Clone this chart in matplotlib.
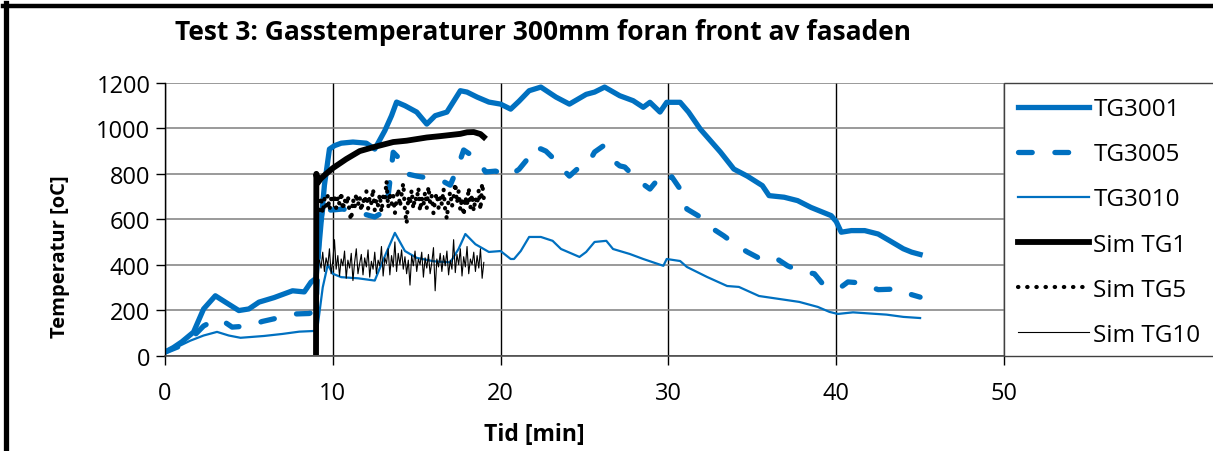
import matplotlib
matplotlib.use("Agg")
import matplotlib.pyplot as plt
from matplotlib.lines import Line2D
from matplotlib.patches import Rectangle

plt.rcParams.update({"font.family": ["Open Sans", "DejaVu Sans"], "font.size": 17})

BLUE = "#0070C0"

# measured series (time in min, temperature in degC)
tg3001_t = [0, 0.5, 1.0, 1.7, 2.3, 3.0, 3.6, 4.4, 5.0, 5.6, 6.5, 7.6, 8.3, 8.7, 9.0, 9.2,
            9.5, 9.8, 10.1, 10.5, 11.2, 12.0, 12.5, 13.1, 13.5, 13.8, 14.3, 15.0, 15.6,
            16.1, 16.8, 17.6, 18.0, 18.6, 19.3, 20.0, 20.6, 21.1, 21.7, 22.4, 23.3, 24.1,
            25.1, 25.6, 26.2, 27.1, 27.9, 28.5, 28.9, 29.5, 29.9, 30.7, 31.2, 31.9, 33.1,
            33.9, 34.7, 35.6, 36.0, 36.9, 37.7, 38.5, 39.7, 40.0, 40.3, 40.9, 41.7, 42.5,
            43.2, 44.0, 44.5, 45.0]
tg3001_v = [15, 35, 60, 103, 205, 263, 235, 198, 205, 235, 255, 285, 280, 323, 340, 500,
            750, 909, 924, 935, 940, 935, 909, 990, 1056, 1116, 1100, 1072, 1019,
            1056, 1072, 1166, 1160, 1138, 1116, 1107, 1085, 1120, 1166, 1182, 1138, 1107,
            1150, 1160, 1182, 1144, 1122, 1093, 1115, 1072, 1115, 1115, 1072, 997, 896,
            821, 790, 748, 704, 697, 682, 652, 616, 590, 543, 550, 550, 535,
            505, 470, 455, 445]

tg3005_t = [0, 1.0, 1.7, 2.3, 2.8, 3.3, 4.0, 5.0, 5.8, 7.0, 7.8, 8.6, 9.0, 9.2, 9.5, 9.8,
            10.6, 11.5, 12.5, 13.2, 13.6, 14.0, 14.4, 15.0, 15.8, 16.5, 17.0, 17.4, 17.8,
            18.3, 18.75, 19.1, 19.7, 20.5, 21.1, 21.6, 21.8, 22.4, 22.7, 23.3, 23.7, 24.1,
            24.7, 25.2, 25.6, 26.1, 26.6, 27.1, 27.4, 27.8, 28.3, 28.9, 29.4, 29.8, 30.2,
            30.7, 31.1, 31.9, 32.4, 33.3, 34.1, 34.7, 35.5, 36.3, 37.1, 37.8, 38.7, 39.3,
            39.8, 40.3, 40.7, 41.4, 42.5, 43.7, 44.4, 45.0]
tg3005_v = [15, 45, 85, 130, 150, 160, 125, 130, 150, 170, 183, 185, 200, 560, 690, 640,
            645, 630, 610, 640, 895, 865, 800, 790, 780, 770, 750, 820, 905,
            880, 850, 808, 812, 790, 820, 865, 910, 910, 900, 857, 820, 790,
            830, 843, 896, 922, 865, 835, 830, 800, 765, 733, 778, 756, 787,
            733, 645, 610, 570, 527, 483, 456, 425, 434, 395, 373, 360, 306,
            300, 302, 324, 320, 290, 293, 270, 257]

tg3010_t = [0, 0.8, 1.5, 2.3, 3.1, 3.8, 4.5, 5.2, 5.9, 7.0, 8.0, 8.9, 9.1, 9.4, 9.7, 10.0,
            10.5, 11.5, 12.5, 13.0, 13.7, 14.3, 15.0, 16.0, 17.0, 17.5, 17.9, 18.5, 19.3,
            20.0, 20.6, 20.8, 21.2, 21.7, 22.4, 23.1, 23.6, 24.2, 24.7, 25.1, 25.6, 26.3,
            26.7, 27.7, 28.5, 29.1, 29.7, 29.9, 30.7, 31.1, 32.3, 33.5, 34.2, 35.4, 36.6,
            37.8, 38.9, 39.6, 40.1, 41.0, 42.0, 43.0, 44.0, 45.0]
tg3010_v = [10, 40, 65, 88, 104, 88, 78, 82, 86, 95, 105, 108, 130, 300, 400, 360,
            345, 340, 330, 420, 540, 460, 430, 415, 410, 470, 535, 490, 456,
            460, 425, 425, 460, 522, 522, 505, 469, 450, 434, 456, 500, 505,
            469, 447, 425, 410, 395, 425, 416, 390, 346, 306, 302, 262, 249,
            236, 214, 192, 183, 190, 185, 180, 170, 165]

# simulated series
sim1_t = [9.0, 9.02, 9.1, 9.3, 9.6, 10.0, 10.8, 11.6, 12.4, 13.6, 14.4, 15.6, 16.4, 17.6,
          18.0, 18.4, 18.8, 19.0]
sim1_v = [15, 800, 760, 780, 800, 825, 865, 900, 917, 940, 946, 960, 966, 976,
          983, 984, 975, 962]

sim_t = [9.2, 9.3, 9.4, 9.5, 9.6, 9.7, 9.8, 9.9, 10.0, 10.1,
         10.2, 10.3, 10.4, 10.5, 10.6, 10.7, 10.8, 10.9, 11.0, 11.1,
         11.2, 11.3, 11.4, 11.5, 11.6, 11.7, 11.8, 11.9, 12.0, 12.1,
         12.2, 12.3, 12.4, 12.5, 12.6, 12.7, 12.8, 12.9, 13.0, 13.1,
         13.2, 13.3, 13.4, 13.5, 13.6, 13.7, 13.8, 13.9, 14.0, 14.1,
         14.2, 14.3, 14.4, 14.5, 14.6, 14.7, 14.8, 14.9, 15.0, 15.1,
         15.2, 15.3, 15.4, 15.5, 15.6, 15.7, 15.8, 15.9, 16.0, 16.1,
         16.2, 16.3, 16.4, 16.5, 16.6, 16.7, 16.8, 16.9, 17.0, 17.1,
         17.2, 17.3, 17.4, 17.5, 17.6, 17.7, 17.8, 17.9, 18.0, 18.1,
         18.2, 18.3, 18.4, 18.5, 18.6, 18.7, 18.8, 18.9, 19.0]
sim5_v = [640, 700, 625, 690, 655, 705, 640, 690, 670, 710,
          650, 700, 665, 720, 640, 690, 660, 705, 625, 595,
          690, 650, 715, 660, 700, 635, 690, 665, 725, 645,
          700, 670, 735, 640, 690, 660, 710, 630, 700, 680,
          770, 650, 720, 665, 705, 625, 690, 735, 655, 710,
          760, 640, 580, 700, 665, 730, 645, 700, 680, 740,
          635, 695, 660, 720, 650, 745, 670, 705, 625, 690,
          715, 650, 700, 665, 735, 640, 600, 690, 720, 655,
          700, 760, 670, 725, 640, 695, 615, 700, 660, 740,
          650, 710, 635, 695, 665, 730, 640, 760, 690]
sim10_v = [420, 385, 455, 370, 430, 395, 470, 360, 415, 510,
           380, 440, 350, 425, 395, 460, 340, 420, 385, 450,
           330, 410, 470, 360, 405, 445, 355, 430, 390, 465,
           345, 415, 380, 455, 360, 420, 395, 480, 350, 430,
           405, 470, 355, 440, 390, 500, 370, 450, 400, 465,
           380, 435, 360, 420, 310, 440, 395, 460, 370, 425,
           400, 455, 345, 430, 385, 445, 360, 410, 475, 285,
           425, 390, 450, 370, 440, 395, 460, 355, 420, 380,
           510, 365, 445, 400, 470, 350, 435, 390, 480, 360,
           425, 400, 455, 370, 440, 385, 470, 340, 410]

W, H = 1213, 452
fig = plt.figure(figsize=(W / 100, H / 100), dpi=100)
ax = fig.add_axes([165 / W, 1 - 356.5 / H, (1004 - 165) / W, (356.5 - 84) / H])

ax.plot(tg3001_t, tg3001_v, color=BLUE, lw=3.8, solid_joinstyle="round", label="TG3001")
ax.plot(tg3005_t, tg3005_v, color=BLUE, lw=3.8, dashes=(2.6, 4.3), dash_capstyle="round",
        label="TG3005")
ax.plot(tg3010_t, tg3010_v, color=BLUE, lw=1.6, label="TG3010")
ax.plot(sim1_t, sim1_v, color="black", lw=4.2, solid_joinstyle="round", label="Sim TG1")
ax.plot(sim_t, sim5_v, color="black", lw=3.0, dashes=(0.1, 2.1), dash_capstyle="round",
        label="Sim TG5")
ax.plot([9.0, 9.1] + sim_t, [15, 400] + sim10_v, color="black", lw=0.8, label="Sim TG10")

ax.set_xlim(0, 50)
ax.set_ylim(0, 1200)
ax.set_xticks(range(0, 51, 10))
ax.set_yticks(range(0, 1201, 200))
ax.tick_params(direction="out", length=6.5, width=1, pad=4)
ax.tick_params(axis="x", pad=12)
ax.grid(axis="y", color="#7f7f7f", lw=1.1)
ax.grid(axis="x", color="black", lw=1.0)
ax.set_axisbelow(True)
for s in ["top", "right"]:
    ax.spines[s].set_visible(False)
ax.spines["left"].set_linewidth(1.0)
ax.spines["bottom"].set_color("#404040")
ax.spines["bottom"].set_linewidth(1.1)

# legend frame sits against the plot area on the right
fig.add_artist(Rectangle((1004 / W, 1 - 356.5 / H), 0.2, (356.5 - 84) / H,
                         transform=fig.transFigure, fill=False, ec="#404040", lw=1.0))
fig.legend(loc="upper left", bbox_to_anchor=(1004 / W, 1 - 84 / H), frameon=False,
           fontsize=17.5, handlelength=2.9, handletextpad=0.2, labelspacing=0.87,
           borderaxespad=0.18)

fig.text(543 / W, 1 - 33 / H, "Test 3: Gasstemperaturer 300mm foran front av fasaden",
         ha="center", va="center", fontsize=19, fontweight="bold")
fig.text(60 / W, 1 - 257 / H, "Temperatur [oC]", rotation=90, ha="center", va="center",
         fontsize=14.5, fontweight="bold")
fig.text(534 / W, 1 - 435 / H, "Tid [min]", ha="center", va="center",
         fontsize=16.5, fontweight="bold")

# outer chart border (left and top edges visible)
fig.add_artist(Line2D([5.5 / W, 5.5 / W], [0, 1 - 4 / H], transform=fig.transFigure,
                      color="black", lw=3.8))
fig.add_artist(Line2D([3 / W, 1], [1 - 7 / H, 1 - 7 / H], transform=fig.transFigure,
                      color="black", lw=3.2))

fig.savefig("out.png", dpi=100)
